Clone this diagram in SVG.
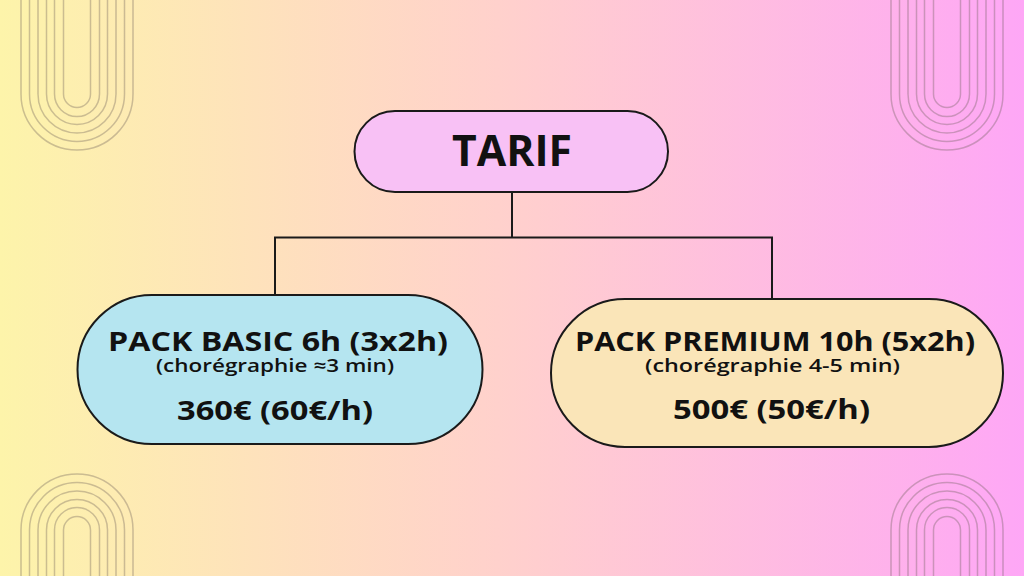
<svg xmlns="http://www.w3.org/2000/svg" xmlns:xlink="http://www.w3.org/1999/xlink" width="1024" height="576" viewBox="0 0 1024 576">
  <defs>
    <linearGradient id="bg" x1="0" y1="0" x2="1" y2="0">
      <stop offset="0" stop-color="#fdf4aa"/>
      <stop offset="0.5" stop-color="#ffd0cd"/>
      <stop offset="1" stop-color="#fea7f6"/>
    </linearGradient>
    <path id="archTop" d="M-56-94V0A56 56 0 0 0 56 0V-94M-47.5-94V0A47.5 47.5 0 0 0 47.5 0V-94M-39-94V0A39 39 0 0 0 39 0V-94M-30.5-94V0A30.5 30.5 0 0 0 30.5 0V-94M-22.5-94V0A22.5 22.5 0 0 0 22.5 0V-94M-13.5-94V0A13.5 13.5 0 0 0 13.5 0V-94"/>
    <path id="archBot" d="M-56 46V0A56 56 0 0 1 56 0V46M-47.5 46V0A47.5 47.5 0 0 1 47.5 0V46M-39 46V0A39 39 0 0 1 39 0V46M-30.5 46V0A30.5 30.5 0 0 1 30.5 0V46M-22.5 46V0A22.5 22.5 0 0 1 22.5 0V46M-13.5 46V0A13.5 13.5 0 0 1 13.5 0V46"/>
  </defs>
  <style>
    .deco { fill: none; stroke: #6e5e5a; stroke-opacity: 0.35; stroke-width: 1.5; }
    .node { stroke: #1a1a1a; stroke-width: 2; }
    .conn { fill: none; stroke: #1a1a1a; stroke-width: 2; }
    text { font-family: "Open Sans", "Noto Sans", "Liberation Sans", sans-serif; fill: #111; text-anchor: middle; font-weight: 700; }
    .title { font-size: 43px; }
    .main { font-size: 26px; }
    .sub { font-size: 18px; font-weight: 600; }
  </style>
  <rect width="1024" height="576" fill="url(#bg)"/>
  <g class="deco">
    <use xlink:href="#archTop" transform="translate(77,94)"/>
    <use xlink:href="#archTop" transform="translate(947,94)"/>
    <use xlink:href="#archBot" transform="translate(77,530)"/>
    <use xlink:href="#archBot" transform="translate(947,530)"/>
  </g>
  <g id="connectors">
    <path class="conn" d="M512 192V237.5M275 296V237.5H772V300"/>
  </g>
  <g id="tarif">
    <rect class="node" x="354.5" y="111" width="313.5" height="81" rx="40.5" fill="#f8c1f5"/>
    <text class="title" x="512" y="166" textLength="120" lengthAdjust="spacingAndGlyphs">TARIF</text>
  </g>
  <g id="basic">
    <rect class="node" x="77.5" y="295" width="405" height="149" rx="74.5" fill="#b5e5f0"/>
    <text class="main" x="278" y="351" textLength="340" lengthAdjust="spacingAndGlyphs">PACK BASIC 6h (3x2h)</text>
    <text class="sub" x="275" y="372" textLength="238" lengthAdjust="spacingAndGlyphs">(chorégraphie ≈3 min)</text>
    <text class="main" x="275" y="420" textLength="196" lengthAdjust="spacingAndGlyphs">360€ (60€/h)</text>
  </g>
  <g id="premium">
    <rect class="node" x="551" y="299" width="452" height="148" rx="74" fill="#fae5b8"/>
    <text class="main" x="775" y="351" textLength="400" lengthAdjust="spacingAndGlyphs">PACK PREMIUM 10h (5x2h)</text>
    <text class="sub" x="772.5" y="372" textLength="255" lengthAdjust="spacingAndGlyphs">(chorégraphie 4-5 min)</text>
    <text class="main" x="771.5" y="419" textLength="197" lengthAdjust="spacingAndGlyphs">500€ (50€/h)</text>
  </g>
</svg>
